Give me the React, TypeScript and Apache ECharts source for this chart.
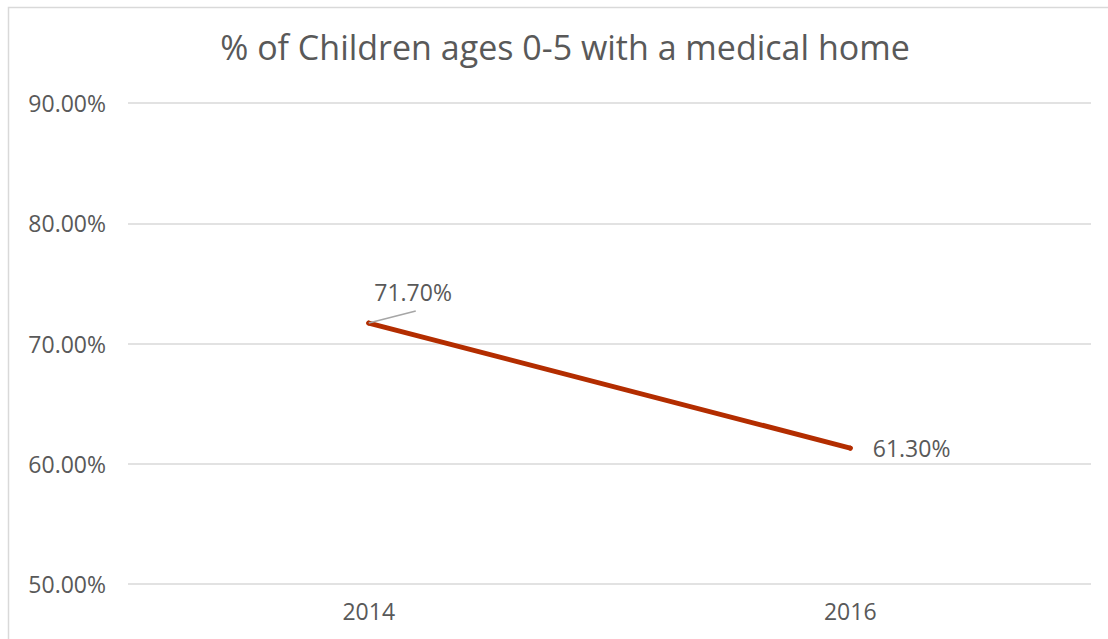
import React, { useEffect, useRef } from "react";
import * as echarts from "echarts";

const categories = ["2014", "2016"];
const values = [71.7, 61.3];
const yTicks = [50, 60, 70, 80, 90];
const titleText = "% of Children ages 0-5 with a medical home";

const FONT = "'Open Sans', 'Liberation Sans', Arial, sans-serif";
const TEXT = "#595959";
const LINE = "#B32D00";

export default function App() {
  const ref = useRef<HTMLDivElement>(null);
  useEffect(() => {
    const chart = echarts.init(ref.current!, null, { renderer: "svg" });
    chart.setOption({
      animation: false,
      backgroundColor: "#ffffff",
      textStyle: { fontFamily: FONT },
      graphic: [
        {
          id: "frame",
          type: "rect",
          silent: true,
          shape: { x: 8.5, y: 7.5, width: 1200, height: 800 },
          style: { fill: "none", stroke: "#d9d9d9", lineWidth: 1.5 },
          z: -10,
        },
        {
          id: "title",
          type: "text",
          x: 565,
          y: 47,
          style: {
            text: titleText,
            fill: TEXT,
            font: `34px ${FONT}`,
            textAlign: "center",
            textVerticalAlign: "middle",
          },
        },
      ],
      grid: { left: 128, right: 17, top: 103, bottom: 55, containLabel: false },
      xAxis: {
        type: "category",
        data: categories,
        boundaryGap: true,
        axisLine: { show: false },
        axisTick: { show: false },
        axisLabel: { color: TEXT, fontSize: 23, margin: 15, fontFamily: FONT },
      },
      yAxis: {
        type: "value",
        min: yTicks[0],
        max: yTicks[yTicks.length - 1],
        interval: 10,
        axisLine: { show: false },
        axisTick: { show: false },
        axisLabel: {
          color: TEXT,
          fontSize: 23,
          margin: 22,
          fontFamily: FONT,
          formatter: (v: number) => v.toFixed(2) + "%",
        },
        splitLine: { lineStyle: { color: "#d9d9d9", width: 1.5 } },
      },
      series: [
        {
          type: "line",
          data: values,
          symbol: "circle",
          symbolSize: 5,
          showSymbol: true,
          lineStyle: { color: LINE, width: 5, cap: "round" },
          itemStyle: { color: LINE, borderWidth: 0 },
          label: {
            show: true,
            position: "right",
            distance: 20,
            color: TEXT,
            fontSize: 23,
            fontFamily: FONT,
            formatter: (p: any) => p.value.toFixed(2) + "%",
          },
          labelLayout: (p: any) =>
            p.dataIndex === 0 ? { dx: -17, dy: -31 } : {},
        },
      ],
    });
    const pt = chart.convertToPixel({ seriesIndex: 0 }, [0, values[0]]) as number[];
    chart.setOption({
      graphic: [
        {
          id: "leader",
          type: "line",
          silent: true,
          shape: { x1: pt[0], y1: pt[1], x2: pt[0] + 47, y2: pt[1] - 12 },
          style: { stroke: "#a6a6a6", lineWidth: 1.5 },
          z: 10,
        },
      ],
    });
    return () => chart.dispose();
  }, []);
  return (
    <div
      ref={ref}
      style={{ position: "absolute", left: 0, top: 0, width: 1108, height: 639 }}
    />
  );
}
